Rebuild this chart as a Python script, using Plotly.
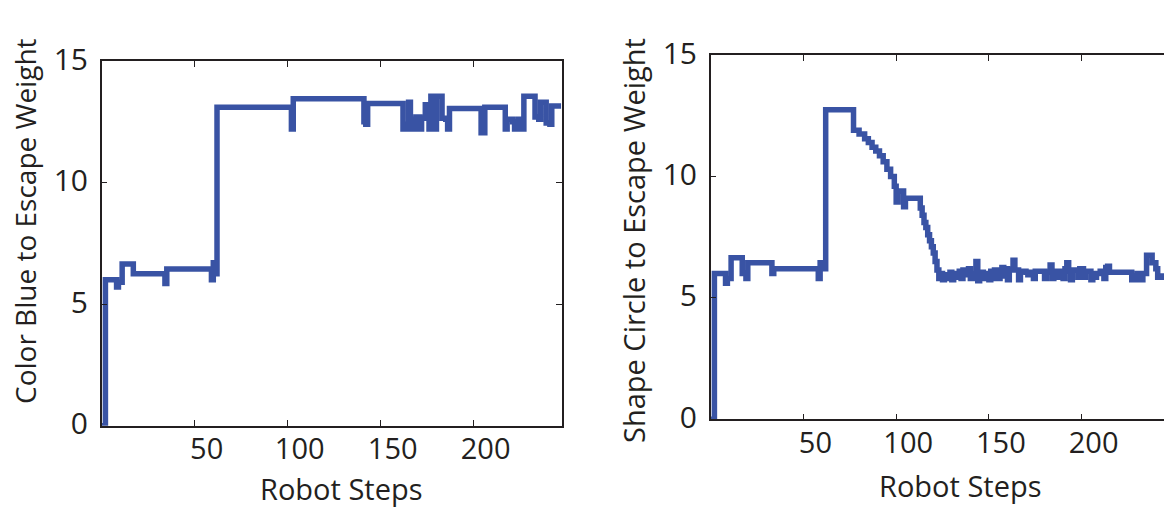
import plotly.graph_objects as go

# ---------------- data ----------------
left_steps = [0, 2, 8, 9, 11, 17, 34, 35, 59, 60, 61, 62, 102, 103, 141, 142, 143,
              162, 163, 164, 165, 166, 167, 168, 169, 171, 172, 174, 176, 177, 179,
              180, 183, 185, 186, 187, 204, 206, 217, 218, 221, 222, 224, 226, 227,
              233, 235, 236, 239, 241, 242, 247]
left_weight = [0, 6.0, 5.7, 5.9, 6.65, 6.25, 5.85, 6.45, 6.0, 6.7, 6.25, 13.1, 12.2, 13.45,
               12.5, 12.4, 13.25, 12.2, 12.4, 12.2, 13.3, 12.2, 12.6, 12.2, 12.7, 12.2,
               12.65, 13.2, 12.2, 13.55, 12.2, 13.55, 12.65, 12.6, 12.2, 13.05, 12.05,
               13.1, 12.2, 12.6, 12.5, 12.2, 12.6, 12.2, 13.55, 12.7, 12.6, 13.3, 12.45,
               12.4, 13.15, 13.15]

right_steps = [0, 2, 8, 9, 11, 17, 19, 20, 33, 34, 58, 59, 61, 62, 77, 80, 83, 85, 87, 89,
               91, 93, 95, 97, 99, 100, 101, 104, 105, 113, 114, 115, 116, 117, 118, 119,
               120, 121, 122, 123, 124, 125, 126, 128, 129, 130, 131, 132, 134, 135, 136,
               137, 139, 140, 141, 143, 144, 145, 147, 148, 150, 151, 152, 153, 155, 156,
               157, 158, 159, 160, 161, 163, 164, 166, 167, 170, 171, 172, 174, 175, 180,
               181, 183, 184, 185, 187, 188, 190, 191, 192, 193, 194, 195, 198, 199, 201,
               202, 205, 206, 207, 208, 210, 212, 213, 214, 215, 227, 228, 229, 230, 232,
               233, 235, 238, 240, 241, 243, 247]
right_weight = [0, 6.0, 5.6, 5.8, 6.65, 6.0, 5.8, 6.45, 6.0, 6.2, 5.8, 6.45, 6.2, 12.75,
                11.9, 11.75, 11.55, 11.4, 11.2, 11.05, 10.85, 10.6, 10.3, 10.0, 9.6, 8.95,
                9.4, 8.75, 9.1, 8.7, 8.4, 8.1, 7.9, 7.6, 7.35, 7.1, 6.85, 6.5, 6.15, 5.8,
                6.0, 5.75, 5.95, 5.8, 6.05, 5.75, 6.0, 5.85, 6.1, 5.8, 6.15, 5.95, 6.2, 5.8,
                6.0, 6.5, 5.7, 6.05, 5.8, 6.0, 5.75, 6.1, 5.8, 6.15, 5.8, 6.1, 6.25, 5.9,
                6.2, 5.75, 6.15, 6.55, 6.15, 5.75, 6.1, 6.05, 5.95, 6.05, 5.8, 6.1, 5.8,
                6.05, 6.35, 5.8, 6.1, 5.85, 6.1, 5.8, 6.2, 6.45, 6.1, 5.75, 6.15, 5.85,
                6.2, 5.85, 6.1, 5.75, 6.0, 5.85, 6.0, 6.1, 5.8, 6.25, 6.3, 6.05, 5.75, 5.9,
                5.75, 6.0, 5.75, 6.0, 6.75, 6.45, 6.2, 5.85, 5.9, 5.9]

x_ticks = [50, 100, 150, 200]
y_ticks = [0, 5, 10, 15]
x_label = "Robot Steps"
left_ylabel = "Color Blue to Escape Weight"
right_ylabel = "Shape Circle to Escape Weight"

# ---------------- styling ----------------
W, H = 1164, 509
LINE = "#3953A4"
INK = "#231F20"
FONT = "Open Sans, Noto Sans, sans-serif"

fig = go.Figure()
fig.add_trace(go.Scatter(x=left_steps, y=left_weight, mode="lines", line_shape="hv",
                         line=dict(color=LINE, width=5.5), xaxis="x", yaxis="y",
                         showlegend=False, hoverinfo="skip"))
fig.add_trace(go.Scatter(x=right_steps, y=right_weight, mode="lines", line_shape="hv",
                         line=dict(color=LINE, width=5.5), xaxis="x2", yaxis="y2",
                         showlegend=False, hoverinfo="skip"))

def xax(domain, rng, anchor, mirror):
    return dict(domain=domain, range=rng, anchor=anchor, tickvals=x_ticks,
                ticks="inside", ticklen=6, tickwidth=1.2, tickcolor=INK,
                showline=True, linecolor=INK, linewidth=1.5, mirror=mirror,
                showgrid=False, zeroline=False, automargin=False,
                tickfont=dict(family=FONT, size=29, color=INK),
                ticklabelshift=12, ticklabelstandoff=-3)

def yax(domain, anchor, mirror):
    return dict(domain=domain, range=[0, 15], anchor=anchor, tickvals=y_ticks,
                ticks="inside", ticklen=6, tickwidth=1.2, tickcolor=INK,
                showline=True, linecolor=INK, linewidth=1.5, mirror=mirror,
                showgrid=False, zeroline=False, automargin=False,
                tickfont=dict(family=FONT, size=30, color=INK),
                ticklabelstandoff=6, ticklabelshift=-2)

fig.update_layout(
    template="none",
    width=W, height=H, margin=dict(l=0, r=0, t=0, b=0, autoexpand=False),
    paper_bgcolor="white", plot_bgcolor="white",
    xaxis=xax([101.7 / W, 562 / W], [0, 247.5], "y", "ticks"),
    yaxis=yax([1 - 425.7 / H, 1 - 61 / H], "x", "ticks"),
    xaxis2=xax([710.7 / W, 1.0], [0, 244.4], "y2", "ticks"),
    yaxis2=yax([1 - 419.3 / H, 1 - 55 / H], "x2", False),
    annotations=[
        dict(text=x_label, xref="paper", yref="paper", x=341 / W, y=1 - 488 / H,
             xanchor="center", yanchor="middle", showarrow=False,
             font=dict(family=FONT, size=29, color=INK)),
        dict(text=x_label, xref="paper", yref="paper", x=960 / W, y=1 - 485 / H,
             xanchor="center", yanchor="middle", showarrow=False,
             font=dict(family=FONT, size=29, color=INK)),
        dict(text=left_ylabel, xref="paper", yref="paper", x=25 / W, y=1 - 221 / H,
             xanchor="center", yanchor="middle", textangle=-90, showarrow=False,
             font=dict(family=FONT, size=28, color=INK)),
        dict(text=right_ylabel, xref="paper", yref="paper", x=633 / W, y=1 - 241 / H,
             xanchor="center", yanchor="middle", textangle=-90, showarrow=False,
             font=dict(family=FONT, size=29, color=INK)),
    ],
)

fig.write_html("out.html", config={"displayModeBar": False},
               post_script="document.body.style.margin='0';document.body.style.overflow='hidden';")
